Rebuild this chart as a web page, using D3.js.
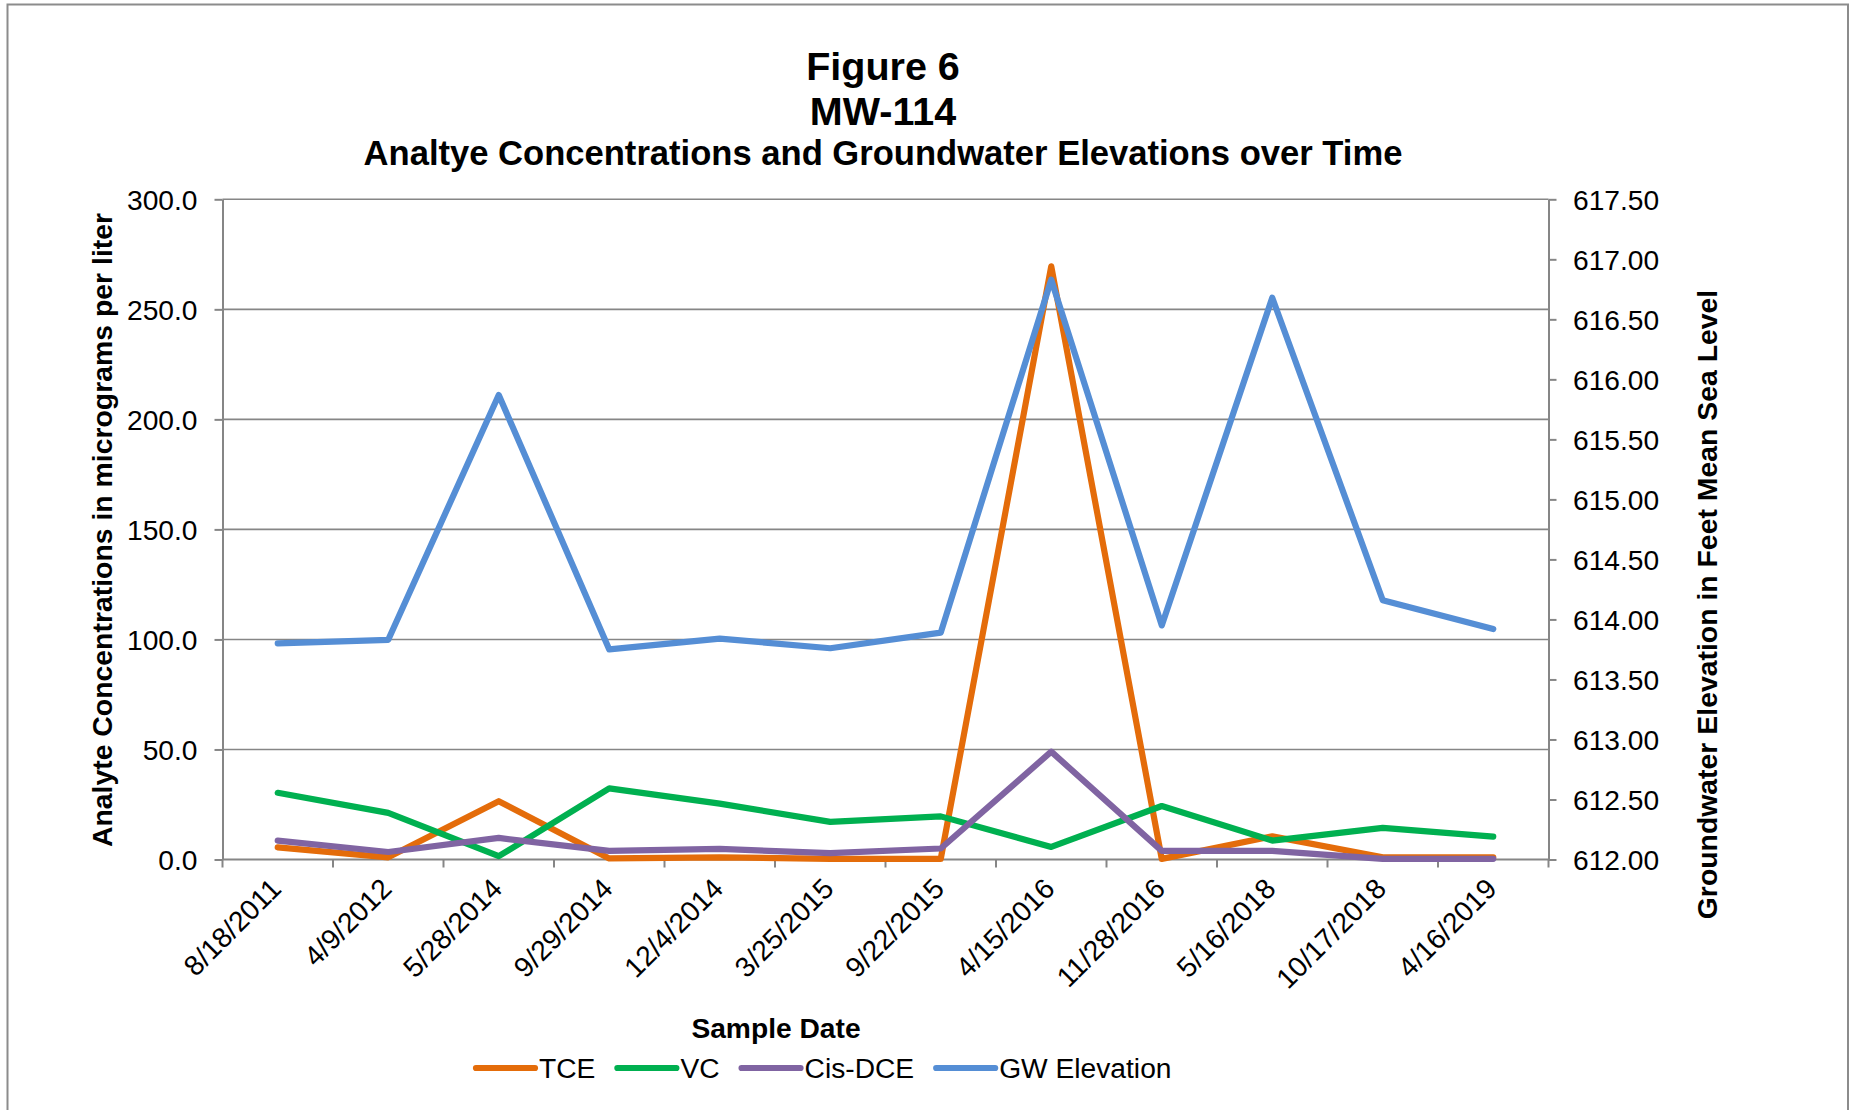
<!DOCTYPE html>
<html>
<head>
<meta charset="utf-8">
<script src="https://cdn.jsdelivr.net/npm/d3@7"></script>
<style>
  html, body { margin: 0; padding: 0; background: #ffffff; }
  svg { display: block; font-family: "Liberation Sans", Arial, sans-serif; }
</style>
</head>
<body>
<svg id="chart" width="1851" height="1110"></svg>
<script>
// ---- data ----
const categories = ["8/18/2011", "4/9/2012", "5/28/2014", "9/29/2014", "12/4/2014", "3/25/2015",
                    "9/22/2015", "4/15/2016", "11/28/2016", "5/16/2018", "10/17/2018", "4/16/2019"];
const tce = [5.5, 1.0, 26.5, 0.5, 1.0, 0.3, 0.3, 269.5, 0.3, 10.5, 1.0, 1.0];
const vc = [30.3, 21.2, 1.5, 32.3, 25.4, 17.1, 19.6, 5.7, 24.3, 8.6, 14.4, 10.4];
const cisDce = [8.6, 3.4, 9.8, 3.9, 4.8, 2.9, 5.0, 49.0, 3.9, 3.9, 0.3, 0.3];
const gwElevation = [613.80, 613.83, 615.87, 613.75, 613.84, 613.76, 613.89, 616.83, 613.95, 616.68, 614.16, 613.92];
const leftTicks = [0, 50, 100, 150, 200, 250, 300];
const rightTicks = [612.0, 612.5, 613.0, 613.5, 614.0, 614.5, 615.0, 615.5, 616.0, 616.5, 617.0, 617.5];
const seriesNames = ["TCE", "VC", "Cis-DCE", "GW Elevation"];
const titleLines = ["Figure 6", "MW-114", "Analtye Concentrations and Groundwater Elevations over Time"];

// ---- layout ----
const L = 222.5, R = 1548.5, T = 199.3, B = 859.5;
const gray = "#868686";
const colors = ["#E46C0A", "#00B050", "#8064A2", "#558ED5"];

const svg = d3.select("#chart");

// outer border
svg.append("rect").attr("x", 7.5).attr("y", 4.5).attr("width", 1840.5).attr("height", 1120)
  .attr("fill", "none").attr("stroke", "#8c8c8c").attr("stroke-width", 2);

const x = d3.scaleBand().domain(categories).range([L, R]).paddingInner(0).paddingOuter(0);
const yL = d3.scaleLinear().domain([0, 300]).range([B, T]);
const yR = d3.scaleLinear().domain([612, 617.5]).range([B, T]);
const cx = d => x(d) + x.bandwidth() / 2;

// gridlines
svg.append("g").selectAll("line").data(leftTicks.filter(d => d > 0)).join("line")
  .attr("x1", L).attr("x2", R).attr("y1", d => yL(d)).attr("y2", d => yL(d))
  .attr("stroke", gray).attr("stroke-width", 1.6);

// left axis
const axL = svg.append("g").attr("transform", `translate(${L},0)`)
  .call(d3.axisLeft(yL).tickValues(leftTicks).tickSize(8).tickSizeOuter(0).tickPadding(17)
    .tickFormat(d3.format(".1f")));
axL.select(".domain").attr("stroke", gray).attr("stroke-width", 2);
axL.selectAll(".tick line").attr("stroke", gray).attr("stroke-width", 2);
axL.selectAll(".tick text").attr("font-size", 28.2).attr("fill", "#000").attr("dy", "0.345em")
  .style("font-family", "Liberation Sans, Arial, sans-serif");

// right axis
const axR = svg.append("g").attr("transform", `translate(${R},0)`)
  .call(d3.axisRight(yR).tickValues(rightTicks).tickSize(8).tickSizeOuter(0).tickPadding(16.5)
    .tickFormat(d3.format(".2f")));
axR.select(".domain").attr("stroke", gray).attr("stroke-width", 2);
axR.selectAll(".tick line").attr("stroke", gray).attr("stroke-width", 2);
axR.selectAll(".tick text").attr("font-size", 28.2).attr("fill", "#000").attr("dy", "0.345em")
  .style("font-family", "Liberation Sans, Arial, sans-serif");

// bottom axis (category boundaries as ticks)
const xg = svg.append("g");
xg.append("line").attr("x1", L).attr("x2", R).attr("y1", B).attr("y2", B)
  .attr("stroke", gray).attr("stroke-width", 2);
const bounds = categories.map(c => x(c)).concat([x(categories[categories.length - 1]) + x.bandwidth()]);
xg.selectAll("line.tk").data(bounds).join("line").attr("class", "tk")
  .attr("x1", d => d).attr("x2", d => d).attr("y1", B).attr("y2", B + 8)
  .attr("stroke", gray).attr("stroke-width", 2);
xg.selectAll("text").data(categories).join("text")
  .attr("transform", d => `translate(${cx(d) + 5},${B + 31}) rotate(-45)`)
  .attr("text-anchor", "end").attr("font-size", 28.2).attr("fill", "#000")
  .text(d => d);

// series lines
const lineL = d3.line().x((d, i) => cx(categories[i])).y(d => yL(d));
const lineR = d3.line().x((d, i) => cx(categories[i])).y(d => yR(d));
const allSeries = [[tce, lineL], [vc, lineL], [cisDce, lineL], [gwElevation, lineR]];
allSeries.forEach(([data, gen], i) => {
  svg.append("path").attr("d", gen(data)).attr("fill", "none")
    .attr("stroke", colors[i]).attr("stroke-width", 6.2)
    .attr("stroke-linejoin", "round").attr("stroke-linecap", "round");
});

// titles
const titleX = 883;
svg.append("text").attr("x", titleX).attr("y", 80).attr("text-anchor", "middle")
  .attr("font-size", 39.5).attr("font-weight", "bold").text(titleLines[0]);
svg.append("text").attr("x", titleX).attr("y", 125).attr("text-anchor", "middle")
  .attr("font-size", 39.5).attr("font-weight", "bold").text(titleLines[1]);
svg.append("text").attr("x", titleX).attr("y", 165).attr("text-anchor", "middle")
  .attr("font-size", 34.6).attr("font-weight", "bold").text(titleLines[2]);

// axis titles
svg.append("text").attr("transform", "translate(112,530) rotate(-90)").attr("text-anchor", "middle")
  .attr("font-size", 28.4).attr("font-weight", "bold").text("Analyte Concentrations in micrograms per liter");
svg.append("text").attr("transform", "translate(1717,604.5) rotate(-90)").attr("text-anchor", "middle")
  .attr("font-size", 28.4).attr("font-weight", "bold").text("Groundwater Elevation in Feet Mean Sea Level");
svg.append("text").attr("x", 776).attr("y", 1038).attr("text-anchor", "middle")
  .attr("font-size", 28.2).attr("font-weight", "bold").text("Sample Date");

// legend
const lg = svg.append("g");
let lx = 476;
const ly = 1068;
seriesNames.forEach((name, i) => {
  lg.append("line").attr("x1", lx).attr("x2", lx + 59).attr("y1", ly).attr("y2", ly)
    .attr("stroke", colors[i]).attr("stroke-width", 6.2).attr("stroke-linecap", "round");
  const t = lg.append("text").attr("x", lx + 63).attr("y", ly + 9.5).attr("font-size", 28.2)
    .attr("fill", "#000").text(name);
  lx = lx + 63 + t.node().getComputedTextLength() + 22;
});
</script>
</body>
</html>
